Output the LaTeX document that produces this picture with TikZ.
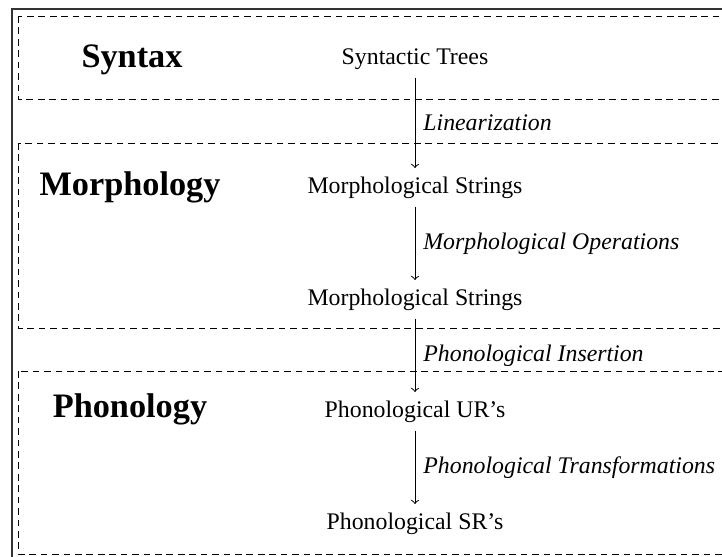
\documentclass[tikz,border=0pt]{standalone}
\usepackage{fontspec}
\setmainfont{Liberation Serif}
\usepackage{tikz}

\begin{document}
\begin{tikzpicture}[x=0.42pt,y=-0.42pt,
        layer/.style={dash pattern=on 2.8pt off 2pt,line width=0.4pt},
        modname/.style={anchor=base,font=\Large\bfseries},
        stage/.style={anchor=base},
        op/.style={midway,right,font=\itshape}]
        \clip (0,0) rectangle (722,556);
        \draw[line width=0.6pt,black!80] (12,600) -- (12,9) -- (760,9);
        \draw[layer] (18,16) rectangle (760,99);
        \draw[layer] (18,143) rectangle (760,328);
        \draw[layer] (18,371) rectangle (760,554);
        \node[modname] (syn) at (132,67) {Syntax};
        \node[modname] (mor) at (130,195) {Morphology};
        \node[modname] (pho) at (130,417) {Phonology};
        \node[stage] (trees) at (415,64) {Syntactic Trees};
        \node[stage] (morphA) at (415,193) {Morphological Strings};
        \node[stage] (morphB) at (415,305) {Morphological Strings};
        \node[stage] (phonUR) at (415,417) {Phonological UR's};
        \node[stage] (phonSR) at (415,529) {Phonological SR's};
        \draw[->] (trees) -- (morphA) node[op] {Linearization};
        \draw[->] (morphA) -- (morphB) node[op] {Morphological Operations};
        \draw[->] (morphB) -- (phonUR) node[op] {Phonological Insertion};
        \draw[->] (phonUR) -- (phonSR) node[op] {Phonological Transformations};
    \end{tikzpicture}
\end{document}
